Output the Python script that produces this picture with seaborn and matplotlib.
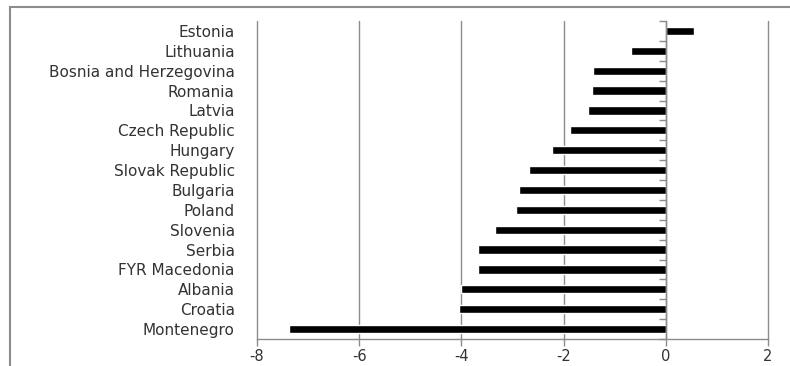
import matplotlib
matplotlib.use("Agg")
import matplotlib.pyplot as plt
import pandas as pd
import seaborn as sns
from matplotlib.patches import Rectangle

# values (% of GDP)
countries = [
    "Estonia", "Lithuania", "Bosnia and Herzegovina", "Romania", "Latvia",
    "Czech Republic", "Hungary", "Slovak Republic", "Bulgaria", "Poland",
    "Slovenia", "Serbia", "FYR Macedonia", "Albania", "Croatia", "Montenegro",
]
values = [
    0.55, -0.68, -1.42, -1.45, -1.53,
    -1.87, -2.23, -2.68, -2.87, -2.93,
    -3.35, -3.67, -3.67, -4.01, -4.05, -7.38,
]
x_ticks = [-8, -6, -4, -2, 0, 2]

GRAY = "#8c8c8c"
TEXT = "#333333"

sns.set_theme(style="white")
plt.rcParams["font.family"] = ["DejaVu Sans"]
plt.rcParams["axes.unicode_minus"] = False

df = pd.DataFrame({"country": countries, "value": values})

fig = plt.figure(figsize=(7.9, 3.66), dpi=100)
ax = fig.add_axes([257 / 790, 1 - 339 / 366, 511 / 790, 318 / 366])

sns.barplot(data=df, x="value", y="country", order=countries, orient="h",
            color="black", width=0.42, saturation=1, ax=ax)

ax.set_xlim(x_ticks[0], x_ticks[-1])
ax.set_xticks(x_ticks)
ax.set_xlabel("")
ax.set_ylabel("")
ax.grid(axis="x", color=GRAY, linewidth=1)
for gl in ax.xaxis.get_gridlines():
    gl.set_clip_on(False)
ax.set_axisbelow(True)
for side in ["top", "right"]:
    ax.spines[side].set_visible(False)
ax.spines["bottom"].set_color(GRAY)
ax.spines["bottom"].set_linewidth(1)
ax.tick_params(axis="x", direction="out", length=5, width=1, color=GRAY,
               labelsize=10.5, labelcolor=TEXT, pad=2, bottom=True)

# category axis line sits at x = 0, with tick marks between the bars
ax.spines["left"].set_position(("data", 0))
ax.spines["left"].set_color(GRAY)
ax.spines["left"].set_linewidth(1)
ax.set_yticks(range(len(countries)))
ax.set_yticks([i - 0.5 for i in range(len(countries) + 1)], minor=True)
ax.tick_params(axis="y", which="major", length=0, labelleft=False)
ax.tick_params(axis="y", which="minor", direction="out", length=5, width=1,
               color=GRAY, left=True)

# category labels stay at the low end of the value axis
lab = ax.secondary_yaxis("left")
lab.set_yticks(range(len(countries)), countries)
lab.spines["left"].set_visible(False)
lab.tick_params(axis="y", length=0, labelsize=11, labelcolor=TEXT, pad=16)

# outer chart frame (cropped on right and bottom)
fig.patches.append(Rectangle((10 / 790, -0.2), 1.2, 1.2 - 7 / 366,
                             transform=fig.transFigure, fill=False,
                             edgecolor=GRAY, linewidth=1.5))

fig.savefig("out.png", dpi=100)
